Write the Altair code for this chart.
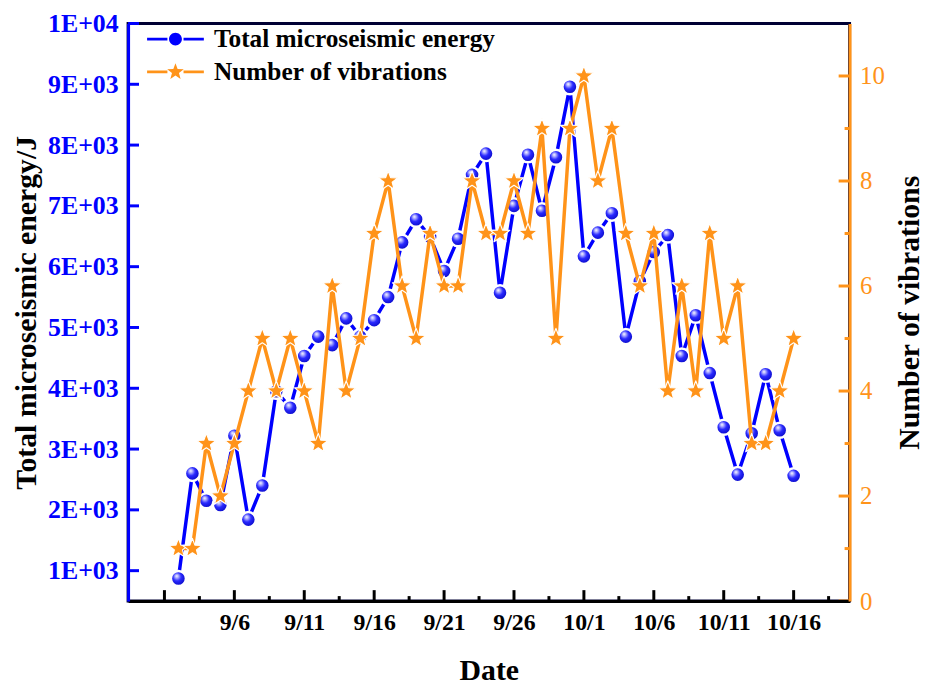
import json
import math
import altair as alt
import pandas as pd

# ---------------- data ----------------
dates = ["9/2", "9/3", "9/4", "9/5", "9/6", "9/7", "9/8", "9/9", "9/10", "9/11",
         "9/12", "9/13", "9/14", "9/15", "9/16", "9/17", "9/18", "9/19", "9/20", "9/21",
         "9/22", "9/23", "9/24", "9/25", "9/26", "9/27", "9/28", "9/29", "9/30", "10/1",
         "10/2", "10/3", "10/4", "10/5", "10/6", "10/7", "10/8", "10/9", "10/10", "10/11",
         "10/12", "10/13", "10/14", "10/15", "10/16"]
energy = [870, 2600, 2150, 2080, 3220, 1840, 2400, 3950, 3680, 4530,
          4850, 4710, 5150, 4850, 5120, 5500, 6400, 6780, 6490, 5930,
          6460, 7510, 7860, 5570, 7000, 7840, 6920, 7800, 8960, 6170,
          6560, 6880, 4850, 5760, 6240, 6520, 4530, 5200, 4250, 3360,
          2580, 3260, 4230, 3310, 2560]
counts = [1, 1, 3, 2, 3, 4, 5, 4, 5, 4,
          3, 6, 4, 5, 7, 8, 6, 5, 7, 6,
          6, 8, 7, 7, 8, 7, 9, 5, 9, 10,
          8, 9, 7, 6, 7, 4, 6, 4, 7, 5,
          6, 3, 3, 4, 5]
series_names = ["Total microseismic energy", "Number of vibrations"]

x_tick_vals = [0, 5, 10, 15, 20, 25, 30, 35, 40, 45]
x_tick_labels = ["", "9/6", "9/11", "9/16", "9/21", "9/26", "10/1", "10/6", "10/11", "10/16"]
x_minor_vals = [2.5, 7.5, 12.5, 17.5, 22.5, 27.5, 32.5, 37.5, 42.5, 47.5]
left_tick_vals = [1000, 2000, 3000, 4000, 5000, 6000, 7000, 8000, 9000, 10000]
left_tick_labels = ["1E+03", "2E+03", "3E+03", "4E+03", "5E+03", "6E+03", "7E+03", "8E+03", "9E+03", "1E+04"]
right_tick_vals = [0, 2, 4, 6, 8, 10]
right_minor_vals = [1, 3, 5, 7, 9]

# day offset from 9/1 (parsed from the date labels)
start = pd.Timestamp("2023-09-01")
day = [(pd.to_datetime("2023/" + d, format="%Y/%m/%d") - start).days for d in dates]
df = pd.DataFrame({"day": day, "energy": energy, "count": counts})

# ---------------- style ----------------
W, H = 727, 582
BLUE = "#0000FF"
ORANGE = "#FF9319"
FONT = "Liberation Serif"


def star_path(scale=1.0, inner=0.42):
    pts = []
    for k in range(10):
        ang = math.radians(-90 + 36 * k)
        r = scale if k % 2 == 0 else scale * inner
        pts.append(f"{r * math.cos(ang):.3f},{r * math.sin(ang):.3f}")
    return "M" + " L".join(pts) + " Z"


STAR = star_path(1.0)
LINES = "M-4.4,-0.23 H-1.25 V0.23 H-4.4 Z M1.25,-0.23 H4.4 V0.23 H1.25 Z "
LEG_BALL = LINES + "M-1,0 A1,1 0 1,1 1,0 A1,1 0 1,1 -1,0 Z"
LEG_STAR = LINES + star_path(1.35)

x_enc = alt.X(
    "day:Q",
    scale=alt.Scale(domain=[-2.6, 49.0], nice=False, zero=False),
    axis=alt.Axis(
        values=x_tick_vals,
        labelExpr=json.dumps(x_tick_labels) + "[round(datum.value/5)]",
        ticks=False, grid=False, domainColor="black", domainWidth=3, zindex=1,
        labelFont=FONT, labelFontSize=24, labelFontWeight="bold", labelColor="black",
        labelPadding=10, labelFlush=False,
        title="Date", titleFont=FONT, titleFontSize=30, titleFontWeight="bold",
        titleColor="black", titlePadding=21,
    ),
)

y_left = alt.Y(
    "energy:Q",
    scale=alt.Scale(domain=[500, 10000], nice=False, zero=False),
    axis=alt.Axis(
        values=left_tick_vals,
        labelExpr=json.dumps(left_tick_labels) + "[round(datum.value/1000)-1]",
        ticks=False, grid=False, domainColor=BLUE, domainWidth=3, zindex=1,
        labelFont=FONT, labelFontSize=26, labelFontWeight="bold", labelColor=BLUE,
        labelPadding=10, labelFlush=False,
        title="Total microseismic energy/J", titleFont=FONT, titleFontSize=30,
        titleFontWeight="bold", titleColor="black", titlePadding=6,
    ),
)

y_right = alt.Y(
    "count:Q",
    scale=alt.Scale(domain=[0, 11], nice=False, zero=True),
    axis=alt.Axis(
        orient="right", values=right_tick_vals,
        ticks=False, grid=False, domainColor=ORANGE, domainWidth=3, zindex=1,
        labelFont=FONT, labelFontSize=25, labelFontWeight="normal", labelColor=ORANGE,
        labelPadding=10, labelFlush=False,
        title="Number of vibrations", titleFont=FONT, titleFontSize=30,
        titleFontWeight="bold", titleColor="black", titlePadding=10,
        titleAngle=-90, titleBaseline="top",
    ),
)

base = alt.Chart(df)

blue_line = base.mark_line(color=BLUE, strokeWidth=3.5).encode(x=x_enc, y=y_left)
ball_fill = alt.RadialGradient(
    gradient="radial",
    x1=0.38, y1=0.32, r1=0.0, x2=0.45, y2=0.45, r2=0.62,
    stops=[alt.GradientStop(offset=0.0, color="#ffffff"),
           alt.GradientStop(offset=0.18, color="#b0b0ff"),
           alt.GradientStop(offset=0.45, color="#2a2aff"),
           alt.GradientStop(offset=1.0, color="#0000b8")],
)
blue_pts = base.mark_point(
    shape="circle", filled=True, fill=ball_fill, fillOpacity=1, opacity=1,
    stroke="white", strokeWidth=2.5, size=230,
).encode(x=x_enc, y=y_left)

orange_line = base.mark_line(color=ORANGE, strokeWidth=3.5).encode(x=x_enc, y=y_right)
stars = base.mark_point(
    shape=STAR, filled=True, fill=ORANGE, fillOpacity=1, opacity=1,
    stroke="white", strokeWidth=1.2, strokeJoin="round", size=420,
).encode(x=x_enc, y=y_right)

# inward axis ticks
left_ticks = alt.Chart(pd.DataFrame({"energy": left_tick_vals})).mark_rule(
    color=BLUE, strokeWidth=3).encode(y=y_left, x=alt.value(0), x2=alt.value(11))
bottom_major = alt.Chart(pd.DataFrame({"day": x_tick_vals})).mark_rule(
    color="black", strokeWidth=3).encode(x=x_enc, y=alt.value(H), y2=alt.value(H - 11))
bottom_minor = alt.Chart(pd.DataFrame({"day": x_minor_vals})).mark_rule(
    color="black", strokeWidth=3).encode(x=x_enc, y=alt.value(H), y2=alt.value(H - 5))
right_major = alt.Chart(pd.DataFrame({"count": right_tick_vals})).mark_rule(
    color=ORANGE, strokeWidth=3).encode(y=y_right, x=alt.value(W), x2=alt.value(W - 11))
right_minor = alt.Chart(pd.DataFrame({"count": right_minor_vals})).mark_rule(
    color=ORANGE, strokeWidth=3).encode(y=y_right, x=alt.value(W), x2=alt.value(W - 5))

# legend-only layer (no marks drawn)
leg_props = dict(
    title=None, orient="none", legendX=35, legendY=3,
    labelFont=FONT, labelFontSize=25.5, labelFontWeight="bold", labelColor="black",
    symbolSize=169, symbolStrokeWidth=0, symbolOpacity=1, labelOffset=26,
    rowPadding=6, padding=0, labelLimit=500,
)
legend_layer = alt.Chart(pd.DataFrame({"series": series_names})).transform_filter(
    "datum.series == 'none'"
).mark_point(filled=True, opacity=1).encode(
    color=alt.Color(
        "series:N",
        scale=alt.Scale(domain=series_names, range=[BLUE, ORANGE]),
        legend=alt.Legend(**leg_props),
    ),
    shape=alt.Shape(
        "series:N",
        scale=alt.Scale(domain=series_names, range=[LEG_BALL, LEG_STAR]),
        legend=alt.Legend(**leg_props),
    ),
)

left = alt.layer(legend_layer, blue_line, blue_pts, left_ticks, bottom_major, bottom_minor)
right = alt.layer(orange_line, stars, right_major, right_minor)

chart = alt.layer(left, right).resolve_scale(y="independent").properties(
    width=W, height=H, padding={"left": 3, "top": 0, "right": 0, "bottom": 0},
).configure_view(stroke="#000033", strokeWidth=3)

chart.save("out.html", embed_options={"renderer": "svg", "actions": False})
